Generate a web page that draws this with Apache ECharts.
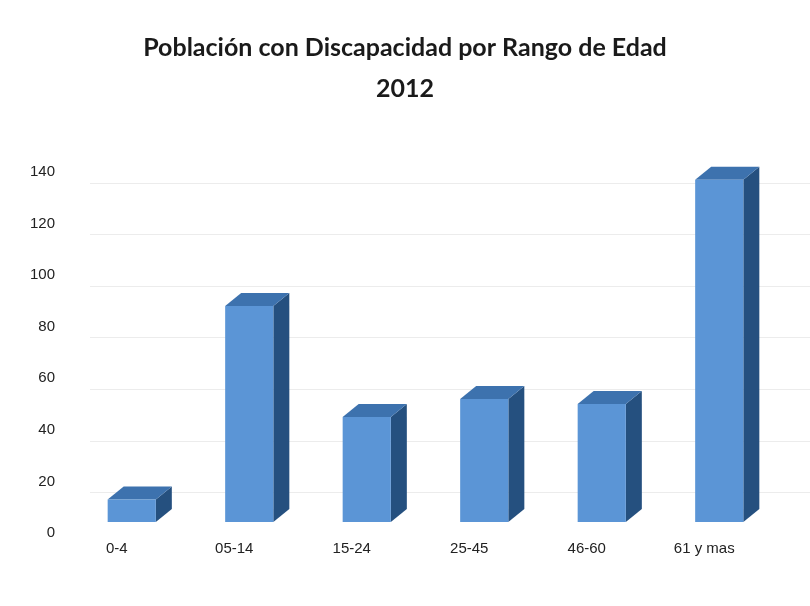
<!DOCTYPE html>
<html>
<head>
<meta charset="utf-8">
<script src="https://cdn.jsdelivr.net/npm/echarts@6/dist/echarts.min.js"></script>
<style>
  html, body { margin: 0; padding: 0; background: #ffffff; }
  #chart { width: 810px; height: 606px; }
</style>
</head>
<body>
<div id="chart"></div>
<script>
// Age ranges and people with a disability in each range (2012)
const categories = ['0-4', '05-14', '15-24', '25-45', '46-60', '61 y mas'];
const values = [13, 88, 45, 52, 50, 137];
const yTicks = [0, 20, 40, 60, 80, 100, 120, 140];

const titleLines = ['Población con Discapacidad por Rango de Edad', '2012'];

// Box styling for the pseudo-3D columns
const FRONT = '#5b95d6';
const TOP = '#3d72ae';
const SIDE = '#25507f';
const DEPTH_X = 16;
const DEPTH_Y = 13;
const FLOOR_LIFT = 11;
const BAR_RATIO = 0.41;

const TITLE_FONT = 'Lato, "Liberation Sans", sans-serif';
const LABEL_FONT = '"Liberation Sans", Arial, sans-serif';

function renderBox(params, api) {
  const cat = api.value(0);
  const val = api.value(1);
  const top = api.coord([cat, val]);
  const base = api.coord([cat, 0]);
  const band = api.size([1, 0])[0];
  const w = band * BAR_RATIO;
  const x0 = top[0] - w / 2;
  const x1 = top[0] + w / 2;
  const yTop = top[1];
  const yBot = base[1] - FLOOR_LIFT;
  return {
    type: 'group',
    children: [
      {
        type: 'polygon',
        shape: { points: [[x1, yTop], [x1 + DEPTH_X, yTop - DEPTH_Y], [x1 + DEPTH_X, yBot - DEPTH_Y], [x1, yBot]] },
        style: { fill: SIDE }
      },
      {
        type: 'polygon',
        shape: { points: [[x0, yTop], [x1, yTop], [x1 + DEPTH_X, yTop - DEPTH_Y], [x0 + DEPTH_X, yTop - DEPTH_Y]] },
        style: { fill: TOP }
      },
      {
        type: 'rect',
        shape: { x: x0, y: yTop, width: w, height: yBot - yTop },
        style: { fill: FRONT }
      }
    ]
  };
}

const chart = echarts.init(document.getElementById('chart'), null, { renderer: 'canvas' });

chart.setOption({
  backgroundColor: '#ffffff',
  animation: false,
  title: [
    {
      text: titleLines[0],
      left: 'center',
      top: 30,
      textStyle: { fontFamily: TITLE_FONT, fontSize: 25, fontWeight: 'bold', color: '#1a1a1a' }
    },
    {
      text: titleLines[1],
      left: 'center',
      top: 71,
      textStyle: { fontFamily: TITLE_FONT, fontSize: 25, fontWeight: 'bold', color: '#1a1a1a' }
    }
  ],
  grid: [
    // front plane: columns, axis labels
    { left: 73, right: 32, top: 172, bottom: 73 },
    // back wall: gridlines only
    { left: 90, right: 0, top: 183, bottom: 62 }
  ],
  xAxis: [
    {
      type: 'category',
      gridIndex: 0,
      data: categories,
      axisLine: { show: false },
      axisTick: { show: false },
      axisLabel: {
        fontFamily: LABEL_FONT,
        fontSize: 15,
        color: '#222',
        margin: 8,
        padding: [0, 30, 0, 0]
      }
    },
    {
      type: 'category',
      gridIndex: 1,
      data: categories,
      show: false
    }
  ],
  yAxis: [
    {
      type: 'value',
      gridIndex: 0,
      min: yTicks[0],
      max: yTicks[yTicks.length - 1],
      interval: yTicks[1] - yTicks[0],
      axisLine: { show: false },
      axisTick: { show: false },
      splitLine: { show: false },
      axisLabel: {
        fontFamily: LABEL_FONT,
        fontSize: 15,
        color: '#222',
        margin: 18
      }
    },
    {
      type: 'value',
      gridIndex: 1,
      min: yTicks[0],
      max: yTicks[yTicks.length - 1],
      interval: yTicks[1] - yTicks[0],
      axisLine: { show: false },
      axisTick: { show: false },
      axisLabel: { show: false },
      splitLine: {
        show: true,
        showMinLine: false,
        lineStyle: { color: '#ececec', width: 1 }
      }
    }
  ],
  series: [
    {
      type: 'custom',
      xAxisIndex: 0,
      yAxisIndex: 0,
      renderItem: renderBox,
      data: values.map((v, i) => [i, v]),
      z: 5
    }
  ]
});
</script>
</body>
</html>
